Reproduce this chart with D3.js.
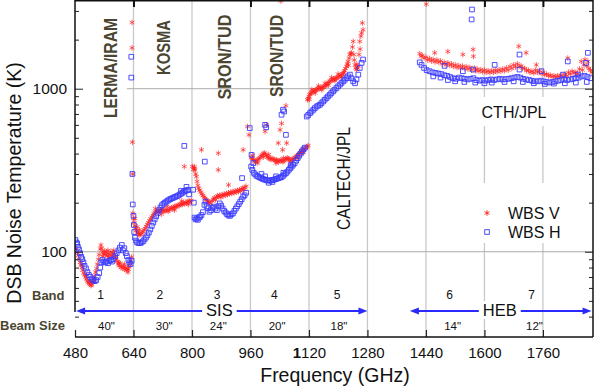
<!DOCTYPE html>
<html>
<head>
<meta charset="utf-8">
<script src="https://cdn.jsdelivr.net/npm/d3@7"></script>
<style>
  body { margin: 0; background: #fff; }
  svg { display: block; font-family: Arial, "Liberation Sans", sans-serif; }
</style>
</head>
<body>
<div id="vis-container"></div>
<script>
////////////////////////////////////
/////////////// Data ///////////////
////////////////////////////////////

// WBS V polarisation  [frequency GHz, DSB noise temperature K]
const wbsV = [
  // band 1
  [484,104],[486,99],[489,95],[491,90],[494,86],[496,83],[499,80],[501,77],[504,74],[506,72],[509,70],[511,68],
  [514,66],[516,65],[519,64],[521,63],[524,62],[526,63],[529,65],[531,68],[534,71],[536,75],[539,79],[541,84],
  [544,90],[546,96],[549,104],[551,110],[553,105],[556,100],[558,97],[561,101],[563,96],[566,99],[568,94],[571,97],
  [573,93],[576,96],[578,100],[581,95],[583,98],[586,102],[588,97],[591,93],[593,90],[596,87],[598,84],[601,82],
  [603,85],[606,80],[608,82],[611,79],[613,81],[616,78],[618,80],[621,77],[623,79],[626,78],[628,81],[631,84],
  [633,88],[635,93],[500,83],[512,72],[522,66],[533,66],[556,94],[570,102],[585,92],[600,86],[615,84],[625,75],
  [636,2550],[636,1780],[637,470],[638,300],
  // band 2
  [638,172],[640,160],[642,151],[644,144],[646,139],[648,135],[650,132],[652,130],[654,128],[657,127],[660,128],
  [663,130],[666,133],[669,136],[672,139],[675,143],[678,147],[681,151],[684,155],[687,159],[690,163],[693,167],
  [696,171],[699,174],[702,176],[705,178],[708,175],[711,178],[714,180],[717,182],[720,178],[723,176],[726,179],
  [729,181],[732,180],[735,177],[738,181],[741,184],[744,186],[747,184],[750,187],[753,190],[756,188],[759,191],
  [762,193],[765,192],[768,195],[771,197],[774,195],[777,199],[780,197],[783,201],[786,199],[789,203],[792,205],
  [795,202],[798,206],[644,160],[650,142],[656,136],[700,184],[716,170],[732,190],[752,180],[772,205],[790,195],
  [779,333],[801,333],
  // band 3
  [804,320],[806,333],[808,318],[810,300],[812,289],[814,270],[816,255],[818,245],[821,239],[824,232],[827,226],
  [830,221],[833,216],[836,212],[839,208],[842,205],[845,202],[848,200],[851,198],[855,205],[858,210],[861,214],
  [864,208],[867,216],[870,220],[873,218],[876,222],[879,216],[882,224],[885,220],[888,226],[891,222],[894,228],
  [897,224],[900,230],[903,226],[906,232],[909,228],[912,234],[915,230],[918,236],[921,232],[924,238],[927,234],
  [930,240],[933,236],[936,242],[939,246],[942,240],[945,248],[948,252],
  [826,422],[872,402],[872,318],[900,257],[940,422],[807,325],
  // band 4
  [962,378],[965,372],[968,366],[971,360],[974,356],[977,362],[980,366],[983,372],[986,378],[989,386],[992,392],
  [995,398],[998,404],[1001,396],[1004,388],[1007,382],[1010,376],[1013,372],[1016,368],[1019,374],[1022,370],
  [1025,366],[1028,362],[1031,366],[1034,360],[1037,356],[1040,362],[1043,366],[1046,360],[1049,356],[1052,362],
  [1055,368],[1058,372],[1061,376],[1064,372],[1067,366],[1070,362],[1073,366],[1076,370],[1079,374],[1082,378],
  [1085,384],[1088,388],[1091,394],[1094,400],[1097,406],[1100,412],[1103,418],[1106,424],[1109,430],[1112,436],
  [1115,442],[1118,448],[966,390],[980,350],[995,380],[1010,395],[1030,350],[1050,375],[1070,350],[1090,375],[1105,405],
  [952,586],[956,521],[1000,547],[1004,600],[1041,560],[1045,612],[1057,786],[1036,464],[1059,464],[1048,422],[1043,3450],
  // band 5
  [1116,855],[1118,870],[1120,895],[1122,918],[1124,930],[1127,945],[1130,960],[1132,963],[1135,972],[1138,980],
  [1141,986],[1144,995],[1147,1002],[1150,1010],[1153,1014],[1156,1018],[1159,1022],[1162,1032],[1165,1045],
  [1168,1060],[1171,1075],[1174,1090],[1177,1110],[1180,1120],[1183,1130],[1186,1140],[1189,1148],[1192,1155],
  [1195,1160],[1198,1172],[1201,1185],[1205,1200],[1208,1215],[1211,1228],[1214,1240],[1217,1290],[1220,1330],
  [1223,1370],[1225,1420],[1227,1470],[1230,1540],[1232,1620],[1234,1640],[1236,1660],[1239,1800],[1241,1950],
  [1244,1500],[1246,1400],[1248,1340],[1250,1310],[1253,1340],[1255,1370],[1257,1620],[1259,1950],[1262,2100],
  [1264,2200],[1266,2530],[1268,2300],
  [1121,860],[1128,990],[1137,940],[1146,1040],[1155,985],[1164,1080],[1173,1050],[1182,1170],[1191,1120],
  [1200,1230],[1209,1180],[1216,1260],[1228,1390],[1243,1620],[1251,1410],[1260,1750],
  // band 6 / 7 (HEB)
  [1423,1640],[1427,1580],[1430,1600],[1435,1540],[1440,1560],[1441,3300],[1445,1500],[1450,1530],[1455,1480],
  [1460,1510],[1464,1660],[1465,1460],[1470,1500],[1475,1450],[1480,1480],[1485,1420],[1490,1450],[1495,1400],
  [1500,1440],[1500,1690],[1505,1390],[1510,1420],[1515,1370],[1520,1400],[1525,1350],[1530,1385],[1535,1340],
  [1540,1375],[1541,1620],[1545,1330],[1550,1365],[1555,1320],[1560,1350],[1565,1300],[1569,1740],[1570,1580],
  [1572,1340],[1576,1290],[1580,1320],[1585,1280],[1590,1310],[1595,1270],[1600,1300],[1605,1260],[1610,1290],
  [1615,1255],[1620,1290],[1625,1260],[1630,1300],[1635,1270],[1640,1310],[1645,1280],[1650,1320],[1655,1290],
  [1660,1340],[1665,1300],[1670,1370],[1675,1330],[1680,1400],[1685,1360],[1690,1420],[1694,1820],[1695,1370],
  [1700,1380],[1705,1340],[1710,1330],[1714,1660],[1715,1290],[1720,1300],[1725,1260],[1730,1280],[1735,1250],
  [1740,1300],[1742,1400],[1745,1260],[1750,1290],[1755,1240],[1760,1260],[1765,1220],[1770,1230],[1775,1200],
  [1780,1210],[1785,1185],[1790,1200],[1795,1180],[1800,1200],[1805,1185],[1810,1210],[1815,1190],[1820,1230],
  [1825,1200],[1828,1540],[1830,1260],[1835,1230],[1840,1280],[1845,1250],[1850,1260],[1855,1230],[1860,1320],
  [1865,1470],[1868,1300],[1872,1400],[1875,1510],[1880,1380],[1883,1470],[1886,1330],[1890,1300],[1894,1260]
];

// WBS H polarisation  [frequency GHz, DSB noise temperature K]
const wbsH = [
  // band 1
  [481,118],[484,114],[486,112],[488,107],[491,103],[494,98],[497,93],[500,90],[503,86],[506,82],[510,79],
  [514,75],[518,72],[522,70],[526,68],[530,67],[534,66],[538,67],[542,70],[546,74],[549,80],[552,86],[555,89],
  [558,87],[562,86],[566,87],[570,85],[574,88],[578,89],[581,87],[585,90],[590,94],[594,98],[599,102],[603,106],
  [608,110],[611,102],[615,105],[619,98],[622,94],[626,89],[629,86],[632,84],[635,88],
  [634,1570],[634,1170],[637,300],
  // band 2
  [638,195],[640,166],[641,146],[642,132],[644,122],[647,117],[650,114],[654,113],[658,113],[662,114],[666,116],
  [670,119],[674,122],[678,126],[682,131],[686,137],[690,144],[694,151],[698,158],[702,165],[706,172],[710,180],
  [714,187],[718,193],[722,197],[726,200],[730,203],[734,206],[738,209],[742,211],[746,213],[750,215],[754,217],
  [758,219],[762,221],[766,224],[770,227],[774,230],[778,234],[782,237],[786,238],[790,240],
  [779,446],[770,236],[785,250],[792,225],
  // band 3
  [803,240],[805,200],[807,162],[810,158],[813,160],[816,157],[819,162],[822,164],[826,168],[830,175],[834,194],
  [837,203],[840,190],[844,185],[848,176],[852,180],[856,186],[860,189],[864,184],[868,180],[872,190],[876,198],
  [880,192],[884,184],[888,178],[892,174],[896,170],[900,167],[904,166],[908,170],[912,172],[916,178],[920,184],
  [924,190],[928,196],[932,203],[936,210],[940,218],[944,222],[948,230],
  [835,357],[937,283],
  // band 4
  [962,333],[965,318],[969,305],[973,298],[977,292],[981,289],[985,286],[989,283],[993,280],[997,278],[1001,276],
  [1005,274],[1009,274],[1013,273],[1017,274],[1021,276],[1025,277],[1029,279],[1033,281],[1037,283],[1041,285],
  [1045,287],[1049,292],[1053,298],[1057,303],[1061,310],[1065,318],[1069,326],[1073,333],[1077,342],[1081,350],
  [1085,362],[1089,375],[1093,388],[1097,400],[1101,413],[1105,425],[1109,435],
  [963,393],[968,350],[990,300],[1000,290],[1010,265],[1020,268],[1030,290],[1050,305],[1070,340],
  [958,573],[1000,600],[1003,580],[1045,692],[1049,743],[1052,725],[1057,521],
  // band 5
  [1114,675],[1118,690],[1123,709],[1127,725],[1132,743],[1136,760],[1141,777],[1145,787],[1150,797],[1154,815],
  [1159,835],[1163,855],[1168,876],[1172,897],[1177,918],[1181,940],[1186,963],[1190,986],[1195,1010],[1200,1035],
  [1205,1060],[1209,1085],[1214,1110],[1218,1135],[1223,1160],[1227,1190],[1232,1220],[1236,1160],[1241,1110],
  [1246,1080],[1250,1140],[1255,1220],[1259,1340],[1264,1440],[1268,1510],
  // band 6 / 7 (HEB)
  [1423,1450],[1428,1400],[1435,1340],[1442,1300],[1450,1280],[1458,1260],[1466,1250],[1474,1240],[1482,1230],
  [1490,1210],[1498,1200],[1506,1180],[1514,1160],[1522,1150],[1530,1170],[1538,1160],[1546,1150],[1554,1140],
  [1562,1150],[1570,1160],[1578,1130],[1586,1120],[1594,1130],[1602,1120],[1610,1130],[1618,1140],[1626,1130],
  [1634,1140],[1642,1150],[1650,1140],[1658,1145],[1666,1150],[1674,1160],[1682,1170],[1690,1180],[1698,1170],
  [1706,1150],[1714,1140],[1722,1130],[1730,1120],[1738,1110],[1746,1110],[1754,1120],[1762,1110],[1770,1100],
  [1778,1090],[1786,1100],[1794,1110],[1802,1120],[1810,1130],[1818,1140],[1826,1130],[1834,1140],[1842,1150],
  [1850,1160],[1858,1170],[1866,1190],[1874,1200],[1882,1180],[1890,1160],
  [1460,1190],[1480,1170],[1500,1130],[1520,1110],[1545,1100],[1575,1090],[1600,1080],[1620,1090],[1655,1100],
  [1680,1110],[1705,1100],[1735,1080],[1765,1070],[1790,1075],[1820,1080],[1850,1090],[1880,1100],
  [1491,1380],[1541,1280],[1569,1310],[1628,1400],[1696,1310],[1696,1620],[1756,1280],[1815,1220],[1828,1470],
  [1856,1220],[1878,1440],[1883,1660],[1566,3060],[1565,2660]
];

const xTicks = [480, 640, 800, 960, 1120, 1280, 1440, 1600, 1760];
const topTicks = [640, 960, 1120, 1280, 1600, 1760];
const yMajor = [100, 1000];
const yMinor = [40, 50, 60, 70, 80, 90, 200, 300, 400, 500, 600, 700, 800, 900, 2000, 3000];

const bandNumbers = ['1', '2', '3', '4', '5', '6', '7'];
const bandLabelFreq = [550, 712, 869, 1025, 1197, 1505, 1729];
const beamSizes = ['40"', '30"', '24"', '20"', '18"', '14"', '12"'];
const beamLabelFreq = [566, 724, 872, 1033, 1202, 1513, 1737];

const mixers = [
    { name: 'SIS', from: 483, to: 1280, mid: 875 },
    { name: 'HEB', from: 1396, to: 1893, mid: 1642 }
];

////////////////////////////////////
///////////// SVG Setup ////////////
////////////////////////////////////

const svgWidth = 595
const svgHeight = 388

const plot = { left: 75, right: 593, top: 0, bottom: 337 }

const svg = d3.select('#vis-container')
    .append('svg')
    .attr('width', svgWidth)
    .attr('height', svgHeight)

const xScale = d3.scaleLinear()
    .domain([480, 1897])
    .range([plot.left, plot.right])

const yScale = d3.scaleLog()
    .domain([30, 3500])
    .range([plot.bottom, plot.top])

const olive = '#4a4631'
const blue = '#2a2aff'

////////////////////////////////////
//////////// Grid lines ////////////
////////////////////////////////////

svg.append('g')
    .selectAll('line')
    .data(xTicks.slice(1))
    .join('line')
    .attr('x1', d => xScale(d)).attr('x2', d => xScale(d))
    .attr('y1', plot.top).attr('y2', plot.bottom)
    .attr('stroke', '#c9c9c9')
    .attr('stroke-width', 1.3)

svg.append('g')
    .selectAll('line')
    .data(yMajor)
    .join('line')
    .attr('x1', plot.left).attr('x2', plot.right)
    .attr('y1', d => yScale(d)).attr('y2', d => yScale(d))
    .attr('stroke', '#ababab')
    .attr('stroke-width', 1)

// white boxes behind some labels (they cut the grid lines like in the original)
const boxes = [
    [76, 5, 51, 125],     // LERMA/IRAM
    [478, 97, 72, 29],    // CTH/JPL
    [468, 183, 92, 60],   // legend
]
svg.append('g')
    .selectAll('rect')
    .data(boxes)
    .join('rect')
    .attr('x', d => d[0]).attr('y', d => d[1])
    .attr('width', d => d[2]).attr('height', d => d[3])
    .attr('fill', '#fff')

////////////////////////////////////
///////////// Points ///////////////
////////////////////////////////////

svg.append('clipPath').attr('id', 'clip')
    .append('rect')
    .attr('x', plot.left).attr('y', plot.top)
    .attr('width', plot.right - plot.left).attr('height', plot.bottom - plot.top)

const star = d3.symbol(d3.symbolAsterisk, 22)()
const square = d3.symbol(d3.symbolSquare, 22)()

const pts = svg.append('g').attr('clip-path', 'url(#clip)')

pts.selectAll('.v')
    .data(wbsV)
    .join('path')
    .attr('class', 'v')
    .attr('d', star)
    .attr('transform', d => `translate(${xScale(d[0])},${yScale(d[1])})`)
    .attr('fill', 'none')
    .attr('stroke', '#ff2020')
    .attr('stroke-width', 0.9)
    .attr('stroke-opacity', 0.75)

pts.selectAll('.h')
    .data(wbsH)
    .join('path')
    .attr('class', 'h')
    .attr('d', square)
    .attr('transform', d => `translate(${xScale(d[0])},${yScale(d[1])})`)
    .attr('fill', 'none')
    .attr('stroke', '#3b3bff')
    .attr('stroke-width', 0.9)

////////////////////////////////////
////////////// Axes ////////////////
////////////////////////////////////

const xAxis = svg.append('g')
    .attr('transform', `translate(0,${plot.bottom})`)
    .call(d3.axisBottom(xScale).tickValues(xTicks).tickSize(-7).tickSizeOuter(0).tickPadding(10)
        .tickFormat(d3.format('d')))
xAxis.select('.domain').remove()
xAxis.selectAll('.tick line').attr('stroke', '#222').attr('stroke-width', 1.2)
xAxis.selectAll('.tick text')
    .attr('font-size', 15)
    .attr('font-family', 'Arial, "Liberation Sans", sans-serif')
    .attr('fill', '#111')
xAxis.selectAll('.tick text')
    .filter(d => d === 1120)
    .text(null)
    .call(t => {
        t.append('tspan').attr('font-weight', 'bold').text('1')
        t.append('tspan').text('120')
    })

const topAxis = svg.append('g')
    .attr('transform', `translate(0,${plot.top})`)
    .call(d3.axisTop(xScale).tickValues(topTicks).tickSize(-7).tickSizeOuter(0).tickFormat(''))
topAxis.select('.domain').remove()
topAxis.selectAll('.tick line').attr('stroke', '#111').attr('stroke-width', 2)

function yAxes(axisFn, x) {
    const major = svg.append('g')
        .attr('transform', `translate(${x},0)`)
        .call(axisFn(yScale).tickValues(yMajor).tickSize(-8).tickSizeOuter(0).tickPadding(8)
            .tickFormat(d3.format('d')))
    major.select('.domain').remove()
    major.selectAll('.tick line').attr('stroke', '#222')
    const minor = svg.append('g')
        .attr('transform', `translate(${x},0)`)
        .call(axisFn(yScale).tickValues(yMinor).tickSize(-4).tickSizeOuter(0).tickFormat(''))
    minor.select('.domain').remove()
    minor.selectAll('.tick line').attr('stroke', '#222')
    return major
}

const leftAxis = yAxes(d3.axisLeft, plot.left)
leftAxis.selectAll('.tick text')
    .attr('font-size', 15.5)
    .attr('font-family', 'Arial, "Liberation Sans", sans-serif')
    .attr('fill', '#111')
const rightAxis = yAxes(d3.axisRight, plot.right)
rightAxis.selectAll('.tick text').remove()

// frame
const frame = [
    [plot.left, plot.top + 0.5, plot.right, plot.top + 0.5, 2],
    [plot.left, plot.bottom, plot.right, plot.bottom, 1.5],
    [plot.left, plot.top, plot.left, 312, 1.5],
    [plot.right, plot.top, plot.right, plot.bottom, 1.5]
]
svg.append('g')
    .selectAll('line')
    .data(frame)
    .join('line')
    .attr('x1', d => d[0]).attr('y1', d => d[1])
    .attr('x2', d => d[2]).attr('y2', d => d[3])
    .attr('stroke', '#111')
    .attr('stroke-width', d => d[4])

// axis titles
svg.append('text')
    .attr('transform', 'translate(21,183) rotate(-90)')
    .attr('text-anchor', 'middle')
    .attr('font-size', 19.5)
    .attr('fill', '#111')
    .text('DSB Noise Temperature (K)')

svg.append('text')
    .attr('x', 335).attr('y', 382)
    .attr('text-anchor', 'middle')
    .attr('font-size', 19.5)
    .attr('fill', '#111')
    .text('Frequency (GHz)')

////////////////////////////////////
///////// Receiver labels //////////
////////////////////////////////////

const rotLabels = [
    { text: 'LERMA/IRAM', x: 111, y: 68, len: 100, bold: true },
    { text: 'KOSMA', x: 163.5, y: 47.5, len: 55, bold: true },
    { text: 'SRON/TUD', x: 225, y: 57, len: 85, bold: true },
    { text: 'SRON/TUD', x: 277, y: 56, len: 82, bold: true },
    { text: 'CALTECH/JPL', x: 343.5, y: 178.5, len: 103, bold: false }
]

svg.append('g')
    .selectAll('text')
    .data(rotLabels)
    .join('text')
    .attr('transform', d => `translate(${d.x},${d.y}) rotate(-90)`)
    .attr('text-anchor', 'middle')
    .attr('dy', '0.36em')
    .attr('font-size', 18)
    .attr('font-weight', d => d.bold ? 'bold' : 'normal')
    .attr('fill', d => d.bold ? olive : '#111')
    .attr('textLength', d => d.len)
    .attr('lengthAdjust', 'spacingAndGlyphs')
    .text(d => d.text)

svg.append('text')
    .attr('x', 514).attr('y', 118)
    .attr('text-anchor', 'middle')
    .attr('font-size', 16)
    .attr('fill', '#111')
    .text('CTH/JPL')

////////////////////////////////////
/////////////// Legend /////////////
////////////////////////////////////

const legendItems = [
    { label: 'WBS V', path: star, stroke: '#ff2020', y: 213 },
    { label: 'WBS H', path: square, stroke: '#3b3bff', y: 232 }
]
const legend = svg.append('g')
legend.selectAll('path')
    .data(legendItems)
    .join('path')
    .attr('d', d => d.path)
    .attr('transform', d => `translate(487,${d.y})`)
    .attr('fill', 'none')
    .attr('stroke', d => d.stroke)
    .attr('stroke-width', 0.9)
legend.selectAll('text')
    .data(legendItems)
    .join('text')
    .attr('x', 508).attr('y', d => d.y + 5.5)
    .attr('font-size', 16)
    .attr('fill', '#111')
    .text(d => d.label)

////////////////////////////////////
//////// Band / beam rows //////////
////////////////////////////////////

svg.append('text')
    .attr('x', 32).attr('y', 300)
    .attr('font-size', 13).attr('font-weight', 'bold')
    .attr('fill', olive)
    .text('Band')

svg.append('text')
    .attr('x', 0).attr('y', 330)
    .attr('font-size', 13).attr('font-weight', 'bold')
    .attr('fill', olive)
    .text('Beam Size')

const arrowY = 311

mixers.forEach(m => {
    const x0 = xScale(m.from), x1 = xScale(m.to), xm = xScale(m.mid)
    const g = svg.append('g')
    g.append('line')
        .attr('x1', x0 + 6).attr('x2', x1 - 6)
        .attr('y1', arrowY).attr('y2', arrowY)
        .attr('stroke', blue).attr('stroke-width', 2)
    g.append('path')
        .attr('d', `M${x0},${arrowY} l9,-3.5 l0,7 z`)
        .attr('fill', blue)
    g.append('path')
        .attr('d', `M${x1},${arrowY} l-9,-3.5 l0,7 z`)
        .attr('fill', blue)
    const t = g.append('text')
        .attr('x', xm).attr('y', arrowY + 5)
        .attr('text-anchor', 'middle')
        .attr('font-size', 16.5)
        .attr('fill', '#111')
        .text(m.name)
    const bb = t.node().getBBox()
    g.insert('rect', 'text')
        .attr('x', bb.x - 4).attr('y', arrowY - 10)
        .attr('width', bb.width + 8).attr('height', 18)
        .attr('fill', '#fff')
})

svg.append('g')
    .selectAll('text')
    .data(bandNumbers)
    .join('text')
    .attr('x', (d, i) => xScale(bandLabelFreq[i]))
    .attr('y', 299)
    .attr('text-anchor', 'middle')
    .attr('font-size', 12)
    .attr('fill', '#111')
    .text(d => d)

svg.append('g')
    .selectAll('text')
    .data(beamSizes)
    .join('text')
    .attr('x', (d, i) => xScale(beamLabelFreq[i]))
    .attr('y', 330)
    .attr('text-anchor', 'middle')
    .attr('font-size', 11.5)
    .attr('fill', '#111')
    .text(d => d)
</script>
</body>
</html>
